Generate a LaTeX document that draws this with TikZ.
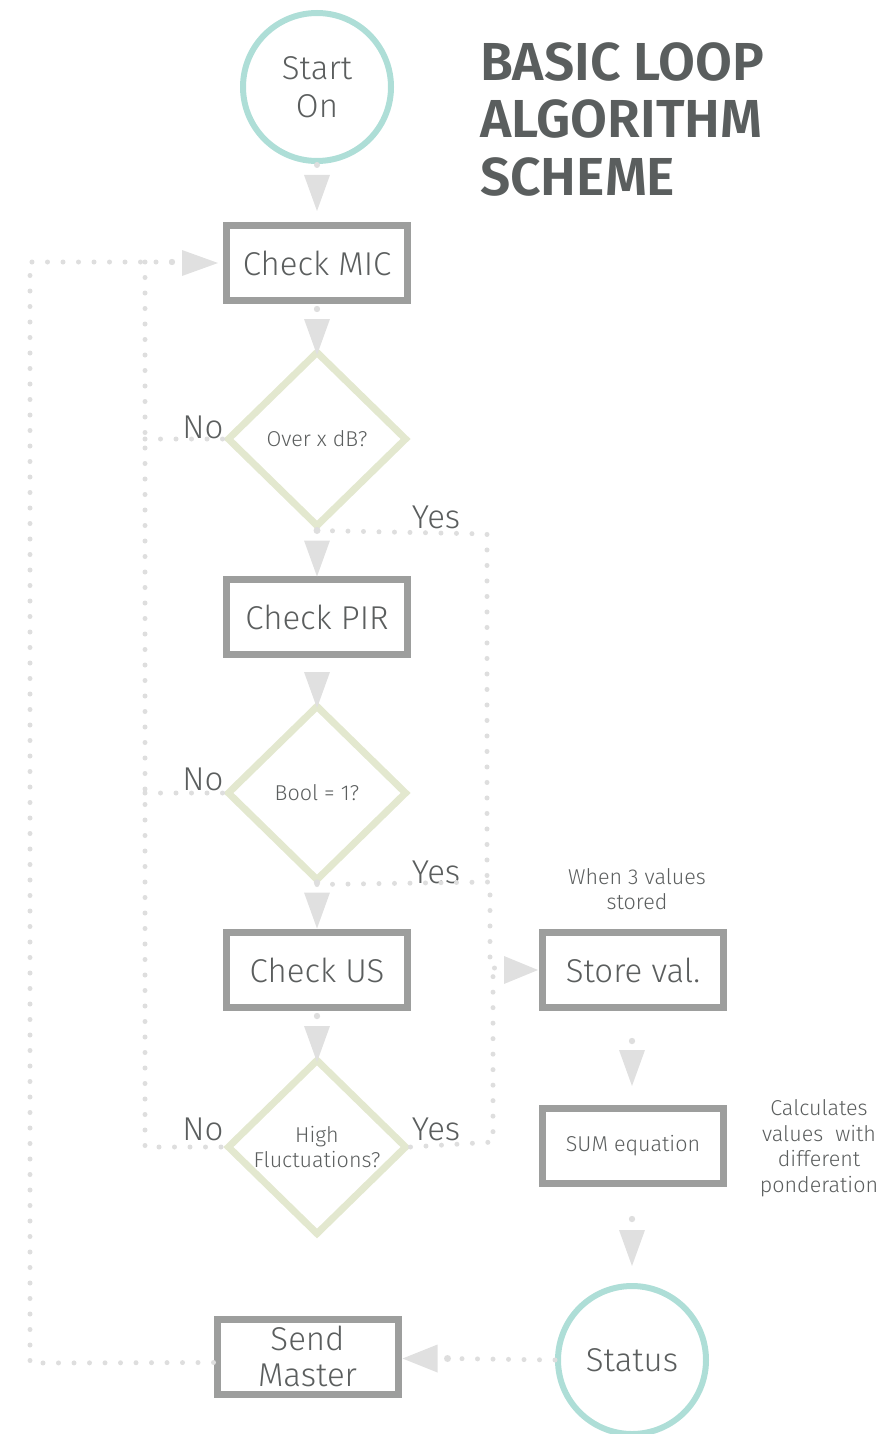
\documentclass[tikz,border=0pt]{standalone}
\usepackage{fontspec}
\setmainfont{Fira Sans Light}[BoldFont=Fira Sans SemiBold]
\usetikzlibrary{calc,shapes.geometric}
\definecolor{txt}{HTML}{5B5E5E}
\definecolor{ttl}{HTML}{5A5E5E}
\definecolor{boxc}{HTML}{9D9E9D}
\definecolor{diac}{HTML}{E3E8CF}
\definecolor{teal}{HTML}{AEDED7}
\definecolor{dotc}{HTML}{DEDEDE}
\definecolor{tric}{HTML}{E0E0E0}
\newcommand\dtri[2]{\fill[tric] ($(#1)+(-13,#2)$) -- ($(#1)+(13,#2)$) -- ($(#1)+(0,{#2+36})$) -- cycle;}
\newcommand\bigtxt{\fontsize{33}{37.5}\selectfont}
\newcommand\smtxt{\fontsize{21.5}{25.5}\selectfont}
\begin{document}
\begin{tikzpicture}[x=1pt,y=-1pt,
  boxn/.style={draw=boxc,line width=7pt,minimum width=181pt,minimum height=75pt,inner sep=0pt,text=txt,font=\bigtxt,align=center},
  dia/.style={diamond,draw=diac,line width=7pt,minimum width=180pt,minimum height=176pt,inner sep=0pt,text=txt,font=\smtxt,align=center},
  circ/.style={circle,draw=teal,line width=6pt,minimum size=148pt,inner sep=0pt,text=txt,font=\bigtxt,align=center},
  lbl/.style={text=txt,font=\bigtxt,inner sep=0pt},
  note/.style={text=txt,font=\smtxt,align=center,inner sep=0pt},
  dotline/.style={draw=dotc,line width=5pt,line cap=round,dash pattern=on 0pt off 15.5pt},
  dotend/.style={fill=dotc}]
\useasboundingbox (0,0) rectangle (896,1434);
% title
\node[text=ttl,font=\bfseries\fontsize{53.5}{57.5}\selectfont,align=left,anchor=north west,inner sep=0pt] (title) at (480,42) {BASIC LOOP\\ALGORITHM\\SCHEME};
% nodes
\node[circ] (start) at (317,87) {Start\\On};
\node[boxn] (mic) at (317,263) {Check MIC};
\node[dia] (d1) at (317,439) {Over x dB?};
\node[boxn] (pir) at (317,617) {Check PIR};
\node[dia] (d2) at (317,793) {Bool = 1?};
\node[boxn] (us) at (317,970) {Check US};
\node[dia] (d3) at (317,1147) {High\\Fluctuations?};
\node[boxn] (store) at (633,970) {Store val.};
\node[boxn,font=\smtxt] (sum) at (633,1146) {SUM equation};
\node[circ] (status) at (632,1360) {Status};
\node[boxn] (send) at (307.5,1356.5) {Send\\[-1pt]Master};
% notes
\node[note] (n1) at (637,889) {When 3 values\\stored};
\node[note] (n2) at (819,1148) {Calculates\\values\ \ with\\different\\ponderation};
% labels
\node[lbl] (no1) at (203,427) {No};
\node[lbl] (yes1) at (436,517) {Yes};
\node[lbl] (no2) at (203,779) {No};
\node[lbl] (yes2) at (436,872) {Yes};
\node[lbl] (no3) at (203,1129) {No};
\node[lbl] (yes3) at (436,1129) {Yes};
% coordinates for loops
\coordinate (outerB) at (30,1363);
\coordinate (outerT) at (30,262);
\coordinate (innerT) at (145,262);
\coordinate (topE) at (172,262);
\coordinate (r1) at (487,534);
\coordinate (r2) at (490,882);
\coordinate (r3) at (493,1142);
\coordinate (rs) at (495,968);
% outer loop
\draw[dotline] ($(send.west)+(0,6)$) -- (outerB) -- (outerT) -- (topE);
\fill[dotend] (topE) circle (3.2);
\fill[tric] ($(mic.west)+(-41,-13)$) -- ($(mic.west)+(-41,13)$) -- ($(mic.west)+(-5,0)$) -- cycle;
% inner loop (No)
\draw[dotline] (innerT) -- (d3.west -| innerT) -- (d3.west);
\draw[dotline] (d1.west -| innerT) -- (d1.west);
\draw[dotline] (d2.west -| innerT) -- (d2.west);
% Yes branches
\draw[dotline] (d1.south) -- (r1) -- (r1 |- r2);
\draw[dotline] (d2.south) -- (r2) -- (r2 |- rs) -- (rs);
\draw[dotline] (d3.east) -- (r3) -- (r3 |- rs);
\fill[tric] ($(store.west)+(-35,-14)$) -- ($(store.west)+(-35,14)$) -- ($(store.west)+(-1,0)$) -- cycle;
% vertical arrows
\fill[dotend] ($(start.south)+(0,1)$) circle (3);
\dtri{start.south}{11}
\fill[dotend] ($(mic.south)+(0,5)$) circle (3.2);
\dtri{mic.south}{15}
\fill[dotend] ($(d1.south)+(0,0)$) circle (3.5);
\dtri{d1.south}{10}
\dtri{pir.south}{14}
\fill[dotend] ($(d2.south)+(0,-2)$) circle (3.2);
\dtri{d2.south}{8}
\fill[dotend] ($(us.south)+(0,5)$) circle (3.2);
\dtri{us.south}{15}
\fill[dotend] ($(store.south)+(-1,30)$) circle (3.2);
\dtri{$(store.south)+(-1,0)$}{39}
\fill[dotend] ($(sum.south)+(-1,32)$) circle (3.2);
\dtri{$(sum.south)+(-1,0)$}{43}
% status -> send
\draw[dotline] (status.west) -- ($(send.east)+(48,2)$);
\fill[dotend] ($(send.east)+(46,2)$) circle (3.5);
\fill[tric] ($(send.east)+(36,-12)$) -- ($(send.east)+(36,16)$) -- ($(send.east)+(1,2)$) -- cycle;
\end{tikzpicture}
\end{document}
